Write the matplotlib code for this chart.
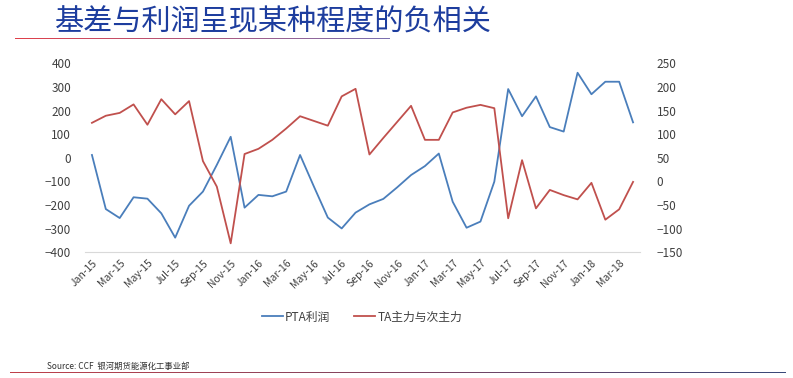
import numpy as np
import matplotlib.pyplot as plt
from matplotlib.colors import LinearSegmentedColormap

plt.rcParams['font.family'] = ['Noto Sans CJK SC', 'DejaVu Sans']

# monthly data, Jan-15 .. Apr-18
months = ['Jan', 'Feb', 'Mar', 'Apr', 'May', 'Jun', 'Jul', 'Aug', 'Sep', 'Oct', 'Nov', 'Dec']
labels = [f'{m}-{y}' for y in (15, 16, 17, 18) for m in months][:40]

pta_profit = [12, -217, -255, -167, -173, -235, -338, -203, -143, -30,
              89, -211, -157, -163, -143, 12, -122, -253, -299, -232,
              -197, -174, -125, -73, -35, 18, -186, -296, -270, -101,
              291, 176, 260, 130, 111, 360, 269, 322, 322, 150]

ta_spread = [124, 139, 145, 163, 120, 174, 142, 170, 43, -11,
             -131, 58, 69, 88, 112, 138, 128, 118, 180, 196,
             57, 92, 126, 160, 88, 88, 146, 156, 162, 155,
             -78, 45, -57, -18, -29, -38, -3, -81, -59, -1]

blue = '#4a7ebb'
red = '#c0504d'
txt = '#404040'

fig = plt.figure(figsize=(7.93, 3.78), dpi=100)
ax = fig.add_axes([85 / 793, 1 - 252.3 / 378, 555 / 793, 189 / 378])
ax2 = ax.twinx()

x = np.arange(len(labels))
l1, = ax.plot(x, pta_profit, color=blue, lw=1.3, label='PTA利润')
l2, = ax2.plot(x, ta_spread, color=red, lw=1.3, label='TA主力与次主力')

ax.tick_params(axis='x', length=0, pad=4)
ax.tick_params(axis='y', length=0, labelsize=8.5, colors=txt, pad=10)
ax2.tick_params(axis='y', length=0, labelsize=8.5, colors=txt, pad=12)

ax.set_xlim(-0.5, len(labels) - 0.5)
ax.set_ylim(-400, 400)
ax.set_yticks(np.arange(-400, 401, 100))
ax2.set_ylim(-150, 250)
ax2.set_yticks(np.arange(-150, 251, 50))

ax.set_xticks(x[::2])
ax.set_xticklabels(labels[::2])
for t in ax.get_xticklabels():
    t.set_rotation(45)
    t.set_ha('right')
    t.set_rotation_mode('anchor')
    t.set_fontsize(7.5)
    t.set_color(txt)

for a in (ax, ax2):
    for s in a.spines.values():
        s.set_visible(False)
ax.spines['bottom'].set_visible(True)
ax.spines['bottom'].set_color('#d9d9d9')

fig.legend(handles=[l1, l2], loc='center', bbox_to_anchor=(362 / 793, 1 - 317 / 378),
           ncol=2, frameon=False, fontsize=8.5, handlelength=1.8, columnspacing=2.0,
           handletextpad=0.2, labelcolor=txt)

# title
fig.text(55 / 793, 1 - 21 / 378, '基差与利润呈现某种程度的负相关', fontsize=21,
         color='#1d3d9e', va='center', ha='left')

# gradient rules
def rule(x0, x1, y, h, c0, c1):
    r = fig.add_axes([x0 / 793, 1 - (y + h / 2) / 378, (x1 - x0) / 793, h / 378])
    cm = LinearSegmentedColormap.from_list('g', [c0, c1])
    r.imshow(np.linspace(0, 1, 256)[None, :], cmap=cm, aspect='auto',
             extent=(0, 1, 0, 1))
    r.axis('off')

rule(15, 390, 38.5, 1.2, '#e0404a', '#7a70b0')
rule(10, 786, 372.5, 1.5, '#c0404a', '#3a4a7a')

fig.text(47 / 793, 1 - 366 / 378, 'Source: CCF  银河期货能源化工事业部', fontsize=6,
         color='#303030', va='center', ha='left')

fig.savefig('out.png', dpi=100, facecolor='white')
